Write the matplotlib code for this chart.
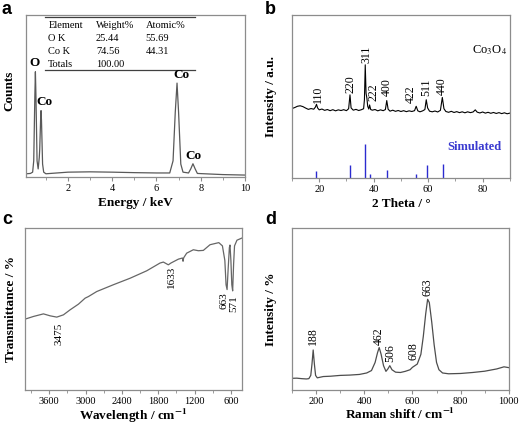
import matplotlib
matplotlib.use("Agg")
import matplotlib.pyplot as plt
from matplotlib.ticker import MultipleLocator

plt.rcParams['font.family'] = ['Liberation Serif', 'DejaVu Serif']
plt.rcParams['mathtext.fontset'] = 'stix'

# (a) EDS spectrum
eds_energy = [0.1, 0.3, 0.4, 0.45, 0.5, 0.525, 0.55, 0.6, 0.65, 0.7, 0.72, 0.76, 0.78, 0.8,
              0.85, 0.9, 1.0, 1.2, 2.0, 3.0, 4.0, 5.0, 6.0, 6.6, 6.75, 6.85, 6.93, 7.0, 7.1,
              7.2, 7.45, 7.55, 7.65, 7.75, 7.85, 8.5, 9.0, 10.0]
eds_counts = [2.0, 2.2, 3.0, 10, 50, 65, 50, 10, 5, 12, 17, 35, 41, 35,
              8, 3.0, 2.0, 2.2, 3.0, 3.2, 3.0, 2.7, 2.5, 2.5, 10, 40, 58, 40, 8,
              3.0, 2.5, 5.0, 8.2, 5.0, 2.2, 1.8, 1.5, 1.2]
eds_table = [["Element", "Weight%", "Atomic%"],
             ["O K", "25.44", "55.69"],
             ["Co K", "74.56", "44.31"],
             ["Totals", "100.00", ""]]
eds_peaks = ["O", "Co", "Co", "Co"]
eds_peak_x = [0.5, 0.95, 7.15, 7.65]
eds_peak_y = [67, 42.5, 59, 9.5]

# (b) XRD pattern
xrd_2theta = [10, 11, 12, 13, 14, 15, 16, 17, 18, 18.6, 19.0, 19.4, 20, 21, 22, 23, 24, 25, 26,
              27, 28, 29, 30, 30.8, 31.3, 31.7, 32.5, 33.5, 34.5, 35.5, 36.3, 36.6, 36.9, 37.2,
              37.5, 37.8, 38.2, 38.5, 38.9, 39.5, 40.5, 41.5, 42.5, 43.5, 44.3, 44.8, 45.3, 46,
              47, 48, 49, 50, 51, 52, 53, 54, 55, 55.6, 56.2, 57, 58, 58.8, 59.3, 59.8, 60.5,
              61.5, 62.5, 63.5, 64.5, 65.2, 65.8, 66.5, 67.5, 68.5, 69.5, 70.5, 71.5, 72.5,
              73.5, 74.5, 75.5, 76.5, 77.3, 78, 79, 80, 81, 82, 83, 84, 85, 86, 87, 88, 89, 90]
xrd_int = [42.6, 43.2, 44.0, 44.3, 43.8, 42.9, 42.1, 42.6, 42.2, 43.5, 45.2, 43.0, 41.8, 42.3,
           41.5, 42.0, 41.3, 41.9, 41.2, 41.8, 41.4, 41.9, 41.3, 42.5, 51.0, 43.0, 41.6, 42.1,
           41.4, 41.9, 42.5, 48.0, 69.4, 52.0, 49.0, 44.0, 42.3, 44.8, 42.0, 41.6, 42.0, 41.2,
           41.8, 41.3, 42.0, 47.5, 42.2, 41.0, 41.6, 40.9, 41.4, 40.8, 41.3, 40.7, 41.2, 40.8,
           41.3, 44.0, 41.2, 40.6, 41.2, 42.0, 48.0, 43.0, 41.0, 40.6, 41.1, 40.5, 41.5, 49.4,
           42.5, 40.8, 40.3, 40.9, 40.2, 40.7, 40.1, 40.6, 40.0, 40.6, 40.1, 40.5, 41.8, 40.4,
           39.9, 40.5, 39.8, 40.3, 39.7, 40.2, 39.6, 40.1, 39.5, 40.0, 39.4, 39.8]
hkl_labels = ["110", "220", "311", "222", "400", "422", "511", "440"]
hkl_pos = [19.5, 31.4, 37.2, 39.8, 44.7, 53.5, 59.4, 64.9]
hkl_y = [46, 52, 70.5, 47, 50, 46, 50, 51]
sim_pos = [19.0, 31.3, 36.9, 38.5, 44.8, 55.7, 59.4, 65.3]
sim_int = [4.5, 8.2, 21.0, 2.5, 5.1, 2.5, 7.8, 8.8]

# (c) FTIR spectrum
ir_wn = [4036, 3860, 3695, 3585, 3475, 3365, 3255, 3117, 3007, 2952, 2815, 2540, 2265, 1990,
         1770, 1715, 1633, 1590, 1467, 1400, 1390, 1380, 1330, 1220, 1137, 1055, 945, 800,
         740, 700, 680, 663, 645, 625, 615, 600, 585, 571, 555, 540, 500, 420]
ir_t = [43.3, 45.4, 47.0, 45.8, 45.0, 46.4, 49.5, 53.0, 56.7, 57.7, 60.8, 65.0, 69.0, 73.6,
        78.4, 79.0, 77.3, 78.4, 80.8, 81.5, 79.5, 81.6, 84.5, 86.6, 86.0, 86.2, 89.7, 91.0,
        89.0, 80.0, 65.0, 62.0, 75.0, 88.0, 89.5, 80.0, 65.0, 61.2, 78.0, 89.0, 92.5, 93.8]
ir_labels = ["3475", "1633", "663", "571"]
ir_label_x = [3440, 1580, 715, 555]
ir_label_y = [41.5, 76.5, 60.5, 58.5]

# (d) Raman spectrum
raman_shift = [100, 120, 140, 160, 170, 178, 183, 188, 193, 198, 205, 230, 260, 300, 340, 380,
               410, 430, 445, 455, 462, 470, 480, 490, 498, 506, 515, 530, 550, 570, 590, 600,
               610, 620, 635, 645, 655, 663, 670, 680, 690, 700, 710, 725, 750, 800, 850, 900,
               950, 980, 1000]
raman_int = [7.2, 7.3, 7.0, 6.8, 7.0, 9.0, 16.0, 24.7, 16.0, 9.0, 7.5, 8.3, 8.5, 9.0, 9.2, 9.6,
             10.5, 12.0, 17.0, 23.0, 26.2, 22.0, 15.0, 11.5, 13.0, 15.0, 12.5, 11.0, 10.8, 11.5,
             12.5, 14.0, 15.0, 16.0, 22.0, 33.0, 47.0, 56.0, 54.0, 42.0, 28.0, 17.0, 12.5, 10.5,
             10.0, 10.2, 10.8, 11.6, 13.0, 14.3, 13.8]
raman_labels = ["188", "462", "506", "608", "663"]
raman_label_x = [188, 462, 506, 604, 663]
raman_label_y = [28, 28, 17.5, 18.5, 58]

frame = '0.55'
fig = plt.figure(figsize=(5.2, 4.25), dpi=100)
ax_a = fig.add_axes([0.050, 0.5835, 0.421, 0.381])
ax_b = fig.add_axes([0.5615, 0.581, 0.419, 0.384])
ax_c = fig.add_axes([0.048, 0.0824, 0.417, 0.381])
ax_d = fig.add_axes([0.5615, 0.0824, 0.417, 0.381])

for ax in [ax_a, ax_b, ax_c, ax_d]:
    for s in ax.spines.values():
        s.set_color(frame)
        s.set_linewidth(0.9)
    ax.set_yticks([])
    ax.tick_params(axis='x', which='both', direction='out', color=frame, labelsize=7.5, pad=2)
    ax.tick_params(axis='x', which='major', length=3)
    ax.tick_params(axis='x', which='minor', length=2)
    ax.set_ylim(0, 100)

lab = dict(fontsize=9.5, fontweight='bold')
num = dict(fontsize=8.5, rotation=90, ha='center', va='bottom')

# panel a
ax_a.plot(eds_energy, eds_counts, color='0.35', lw=0.9)
ax_a.set_xlim(0.1, 10)
ax_a.xaxis.set_minor_locator(MultipleLocator(1))
ax_a.set_xticks([2, 4, 6, 8, 10])
ax_a.set_xlabel("Energy / keV", labelpad=3, **lab)
ax_a.set_ylabel("Counts", **lab)
ax_a.yaxis.set_label_coords(-0.05, 0.53)
col_x = [0.102, 0.32, 0.546]
row_y = [0.938, 0.856, 0.773, 0.695]
for r, row in enumerate(eds_table):
    for c, cell in enumerate(row):
        ax_a.text(col_x[c], row_y[r], cell, transform=ax_a.transAxes, fontsize=7.5,
                  va='center', ha='left')
ax_a.plot([0.087, 0.772], [0.99, 0.99], transform=ax_a.transAxes, color='0.25', lw=0.9)
ax_a.plot([0.087, 0.772], [0.66, 0.66], transform=ax_a.transAxes, color='0.25', lw=0.9)
for name, px, py in zip(eds_peaks, eds_peak_x, eds_peak_y):
    ax_a.text(px, py, name, fontsize=9.5, fontweight='bold', ha='center', va='bottom')

# panel b
ax_b.plot(xrd_2theta, xrd_int, color='black', lw=0.8)
ax_b.vlines(sim_pos, 0, sim_int, color='#2b2bd0', lw=1.0)
ax_b.set_xlim(10, 90)
ax_b.xaxis.set_major_locator(MultipleLocator(20))
ax_b.xaxis.set_minor_locator(MultipleLocator(10))
ax_b.set_xlabel("2 Theta / °", labelpad=3, **lab)
ax_b.set_ylabel("Intensity / a.u.", **lab)
ax_b.yaxis.set_label_coords(-0.069, 0.5)
for t, x, y in zip(hkl_labels, hkl_pos, hkl_y):
    ax_b.text(x, y, t, **num)
ax_b.text(82.5, 78.5, r"Co$_3$O$_4$", fontsize=9, ha='center', va='center')
ax_b.text(77, 18.8, "Simulated", fontsize=9, fontweight='bold', color='#3a3ad0',
          ha='center', va='center')

# panel c
ax_c.plot(ir_wn, ir_t, color='0.4', lw=0.9)
ax_c.set_xlim(4000, 420)
ax_c.set_xticks([3600, 3000, 2400, 1800, 1200, 600])
ax_c.xaxis.set_minor_locator(MultipleLocator(300))
ax_c.set_xlabel(r"Wavelength / cm$^{\mathbf{-1}}$", labelpad=1, **lab)
ax_c.set_ylabel("Transmittance / %", **lab)
ax_c.yaxis.set_label_coords(-0.037, 0.5)
for t, x, y in zip(ir_labels, ir_label_x, ir_label_y):
    ax_c.text(x, y, t, fontsize=8, rotation=90, ha='center', va='top')

# panel d
ax_d.plot(raman_shift, raman_int, color='0.3', lw=0.9)
ax_d.set_xlim(100, 1000)
ax_d.xaxis.set_major_locator(MultipleLocator(200))
ax_d.xaxis.set_minor_locator(MultipleLocator(100))
ax_d.set_xlabel(r"Raman shift / cm$^{\mathbf{-1}}$", labelpad=1, **lab)
ax_d.set_ylabel("Intensity / %", **lab)
ax_d.yaxis.set_label_coords(-0.069, 0.5)
for t, x, y in zip(raman_labels, raman_label_x, raman_label_y):
    ax_d.text(x, y, t, **num)

for letter, lx, ly in zip("abcd", [2, 265, 2, 265], [1, 1, 211, 211]):
    fig.text(lx / 520, 1 - ly / 425, letter, fontsize=13, fontweight='bold',
             family='Liberation Sans', va='top', ha='left')

fig.savefig("out.png", dpi=100)
